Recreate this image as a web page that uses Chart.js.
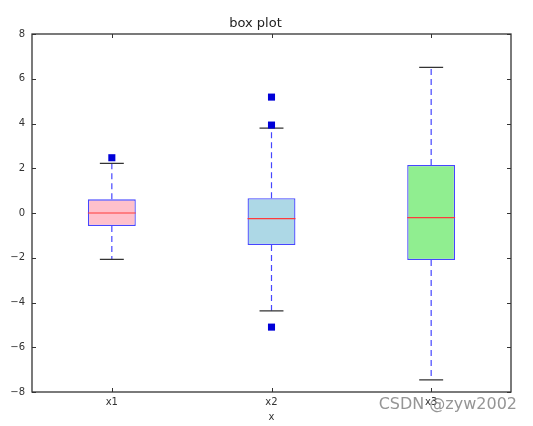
<!DOCTYPE html>
<html>
<head>
<meta charset="utf-8">
<script src="https://cdn.jsdelivr.net/npm/chart.js@4/dist/chart.umd.min.js"></script>
<style>
  body { margin: 0; background: #fff; }
</style>
</head>
<body>
<canvas id="boxChart" width="533" height="426"></canvas>
<script>
// box plot values
var labels = ['x1', 'x2', 'x3'];
var q1Values = [-0.58, -1.43, -2.10];
var q3Values = [0.61, 0.66, 2.15];
var medianValues = [0.00, -0.25, -0.21];
var whiskerLow = [-2.07, -4.37, -7.46];
var whiskerHigh = [2.22, 3.79, 6.51];
var outlierCats = ['x1', 'x2', 'x2', 'x2'];
var outlierValues = [2.47, 5.18, 3.93, -5.10];
var yTicks = [-8, -6, -4, -2, 0, 2, 4, 6, 8];

var boxFills = ['#ffc0cb', '#add8e6', '#90ee90'];
var edgeBlue = '#4646ff';

Chart.defaults.font.family = 'DejaVu Sans';
Chart.defaults.color = '#333';

// whiskers, caps and medians on top of the bars
var boxExtras = {
    id: 'boxExtras',
    afterDatasetDraw: function(chart, args) {
        if (args.index !== 0) return;
        var ctx = chart.ctx;
        var yScale = chart.scales.y;
        var bars = args.meta.data;
        ctx.save();
        for (var i = 0; i < bars.length; i++) {
            var bar = bars[i];
            var cx = bar.x;
            var half = bar.width / 2;
            var yTop = yScale.getPixelForValue(q3Values[i]);
            var yBot = yScale.getPixelForValue(q1Values[i]);
            var yHi = yScale.getPixelForValue(whiskerHigh[i]);
            var yLo = yScale.getPixelForValue(whiskerLow[i]);
            var yMed = yScale.getPixelForValue(medianValues[i]);

            // dashed whiskers
            ctx.strokeStyle = edgeBlue;
            ctx.lineWidth = 1.2;
            ctx.setLineDash([6, 4]);
            ctx.beginPath();
            ctx.moveTo(cx, yTop); ctx.lineTo(cx, yHi);
            ctx.moveTo(cx, yBot); ctx.lineTo(cx, yLo);
            ctx.stroke();
            ctx.setLineDash([]);

            // caps
            ctx.strokeStyle = '#333';
            ctx.lineWidth = 1.2;
            ctx.beginPath();
            ctx.moveTo(cx - half / 2, yHi); ctx.lineTo(cx + half / 2, yHi);
            ctx.moveTo(cx - half / 2, yLo); ctx.lineTo(cx + half / 2, yLo);
            ctx.stroke();

            // median
            ctx.strokeStyle = '#ff3b3b';
            ctx.lineWidth = 1.2;
            ctx.beginPath();
            ctx.moveTo(cx - half, yMed); ctx.lineTo(cx + half, yMed);
            ctx.stroke();
        }
        ctx.restore();
    }
};

// matplotlib style frame with inward ticks + watermark
var frameAndTicks = {
    id: 'frameAndTicks',
    afterDraw: function(chart) {
        var ctx = chart.ctx;
        var a = chart.chartArea;
        var xScale = chart.scales.x;
        var yScale = chart.scales.y;
        var tl = 4;
        ctx.save();
        ctx.strokeStyle = '#333';
        ctx.lineWidth = 1;
        ctx.beginPath();
        for (var i = 0; i < labels.length; i++) {
            var px = Math.round(xScale.getPixelForValue(i)) + 0.5;
            ctx.moveTo(px, a.bottom); ctx.lineTo(px, a.bottom - tl);
            ctx.moveTo(px, a.top); ctx.lineTo(px, a.top + tl);
        }
        for (var j = 0; j < yTicks.length; j++) {
            var py = Math.round(yScale.getPixelForValue(yTicks[j])) + 0.5;
            ctx.moveTo(a.left, py); ctx.lineTo(a.left + tl, py);
            ctx.moveTo(a.right, py); ctx.lineTo(a.right - tl, py);
        }
        ctx.stroke();
        ctx.lineWidth = 1.3;
        ctx.strokeRect(a.left, a.top, a.right - a.left, a.bottom - a.top);

        ctx.font = '16px "DejaVu Sans"';
        ctx.textAlign = 'right';
        ctx.textBaseline = 'middle';
        ctx.fillStyle = 'rgba(130,130,130,0.85)';
        ctx.fillText('CSDN @zyw2002', 517, 405);
        ctx.restore();
    }
};

var chart = new Chart(document.getElementById('boxChart').getContext('2d'), {
    type: 'bar',
    data: {
        labels: labels,
        datasets: [{
            label: 'box',
            data: labels.map(function(l, i) { return [q1Values[i], q3Values[i]]; }),
            backgroundColor: boxFills,
            borderColor: edgeBlue,
            borderWidth: 1.3,
            borderSkipped: false,
            barPercentage: 0.3,
            categoryPercentage: 1.0,
            order: 2
        }, {
            type: 'line',
            label: 'outliers',
            data: outlierCats.map(function(c, i) { return { x: c, y: outlierValues[i] }; }),
            showLine: false,
            pointStyle: 'rect',
            pointRadius: 5,
            pointHoverRadius: 5,
            pointBackgroundColor: '#0000d8',
            pointBorderColor: '#0000d8',
            pointBorderWidth: 0,
            order: 1
        }]
    },
    options: {
        responsive: false,
        animation: false,
        layout: { padding: { left: 0, right: 22, top: 0, bottom: 0 } },
        plugins: {
            legend: { display: false },
            tooltip: { enabled: false },
            title: {
                display: true,
                text: 'box plot',
                font: { size: 13, weight: 'normal' },
                color: '#222',
                padding: { top: 16, bottom: 2.4 }
            }
        },
        scales: {
            x: {
                type: 'category',
                offset: true,
                grid: { display: false, drawTicks: false },
                border: { display: false },
                ticks: { font: { size: 10 }, padding: 4, color: '#333' },
                title: {
                    display: true,
                    text: 'x',
                    font: { size: 10 },
                    color: '#333',
                    padding: { top: 0, bottom: 3 }
                },
                afterFit: function(scale) { scale.height = 34; }
            },
            y: {
                min: -8,
                max: 8,
                afterBuildTicks: function(scale) {
                    scale.ticks = yTicks.map(function(v) { return { value: v }; });
                },
                grid: { display: false, drawTicks: false },
                border: { display: false },
                ticks: {
                    font: { size: 10 },
                    padding: 7,
                    color: '#333',
                    callback: function(v) { return String(v).replace('-', '\u2212'); }
                },
                afterFit: function(scale) { scale.width = 32; }
            }
        }
    },
    plugins: [boxExtras, frameAndTicks]
});
</script>
</body>
</html>
